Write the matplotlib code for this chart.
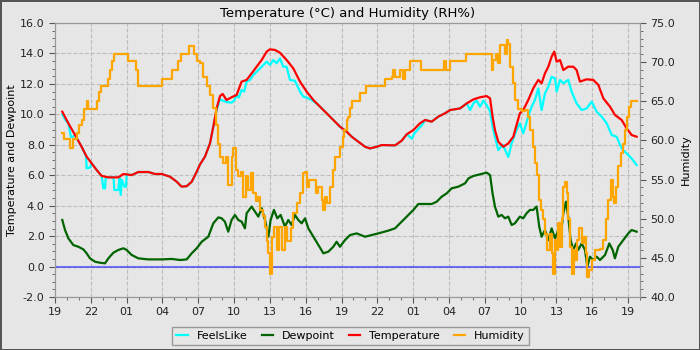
import numpy as np
import pandas as pd
import matplotlib
matplotlib.use('Agg')
import matplotlib.pyplot as plt
from matplotlib.dates import DateFormatter, HourLocator
from matplotlib.ticker import MultipleLocator, FormatStrFormatter

# hours after 19:00 on the first day
temp_h = [0.61, 1.12, 1.68, 2.23, 2.65, 3.07, 3.49, 3.91, 4.47, 5.3,
          5.73, 6.42, 6.98, 7.82, 8.38, 8.94, 9.64, 10.2, 10.6, 11.03,
          11.45, 11.87, 12.14, 12.56, 12.98, 13.26, 13.54, 13.82, 14.04, 14.37,
          14.79, 15.21, 15.63, 16.05, 16.47, 16.89, 17.31, 17.73, 18.0, 18.42,
          18.84, 19.4, 19.96, 20.52, 21.08, 21.64, 22.2, 22.75, 23.31, 23.87,
          24.43, 24.85, 25.41, 25.97, 26.38, 26.94, 27.36, 28.48, 29.04, 29.46,
          30.02, 30.57, 31.0, 31.55, 32.11, 32.67, 33.09, 33.93, 34.49, 35.04,
          35.6, 36.16, 36.44, 36.65, 36.85, 37.13, 37.55, 37.97, 38.39, 38.66,
          38.94, 39.22, 39.64, 40.06, 40.48, 40.76, 41.04, 41.32, 41.6, 41.82,
          42.02, 42.3, 42.58, 42.99, 43.41, 43.69, 43.97, 44.53, 45.09, 45.51,
          45.93, 46.49, 46.9, 47.46, 47.88, 48.3, 48.72]
temp_v = [10.17, 9.41, 8.64, 7.87, 7.22, 6.78, 6.34, 5.95, 5.86, 5.86,
          6.08, 6.01, 6.21, 6.21, 6.08, 6.08, 5.9, 5.57, 5.25, 5.28,
          5.57, 6.23, 6.7, 7.22, 8.09, 9.19, 10.39, 11.2, 11.34, 10.94,
          11.12, 11.27, 12.15, 12.26, 12.69, 13.13, 13.57, 14.12, 14.27, 14.23,
          14.05, 13.57, 13.02, 12.15, 11.49, 10.94, 10.5, 10.07, 9.63, 9.19,
          8.86, 8.53, 8.2, 7.87, 7.76, 7.87, 7.98, 7.96, 8.27, 8.69,
          8.97, 9.41, 9.63, 9.52, 9.85, 10.07, 10.28, 10.39, 10.72, 10.98,
          11.12, 11.2, 11.05, 9.85, 8.97, 8.2, 7.87, 8.09, 8.53, 9.3,
          10.07, 10.28, 10.94, 11.71, 12.26, 12.04, 12.69, 13.13, 13.79, 14.12,
          13.46, 13.57, 12.91, 13.13, 13.13, 12.91, 12.15, 12.3, 12.26, 11.93,
          11.05, 10.5, 9.96, 9.63, 9.08, 8.64, 8.53]

feels_h = [0.61, 0.9, 1.12, 1.34, 1.54, 1.68, 2.23, 2.6, 2.65, 2.93,
           3.07, 3.49, 3.91, 4.05, 4.19, 4.25, 4.9, 4.97, 5.31, 5.4,
           5.5, 5.6, 5.81, 5.95, 6.0, 6.42, 6.98, 7.82, 8.38, 8.94,
           9.64, 10.2, 10.6, 11.03, 11.45, 11.87, 12.14, 12.56, 12.98, 13.26,
           13.54, 13.82, 14.04, 14.37, 14.79, 15.0, 15.21, 15.4, 15.63, 15.85,
           16.05, 16.33, 16.61, 17.03, 17.45, 17.73, 18.01, 18.29, 18.56, 18.84,
           19.12, 19.4, 19.68, 20.1, 20.52, 20.8, 21.08, 21.5, 21.92, 22.34,
           22.75, 23.31, 23.87, 24.43, 24.85, 25.41, 25.97, 26.38, 26.94, 27.36,
           28.48, 29.04, 29.46, 29.6, 29.9, 30.1, 30.5, 30.7, 31.0, 31.55,
           32.11, 32.67, 33.09, 33.93, 34.49, 34.77, 35.04, 35.32, 35.6, 35.88,
           36.16, 36.44, 36.65, 36.85, 37.13, 37.5, 37.97, 38.25, 38.66, 38.94,
           39.22, 39.64, 39.92, 40.2, 40.48, 40.76, 41.04, 41.32, 41.6, 41.88,
           42.02, 42.3, 42.58, 42.99, 43.27, 43.69, 44.11, 44.53, 44.95, 45.37,
           45.79, 46.21, 46.63, 47.04, 47.46, 47.88, 48.3, 48.72]
feels_v = [10.0, 9.6, 9.41, 8.5, 8.55, 8.64, 7.87, 7.25, 6.45, 6.5,
           6.78, 6.34, 5.95, 5.14, 5.14, 5.86, 5.86, 5.03, 5.03, 5.86,
           4.7, 5.7, 5.25, 5.25, 6.05, 6.01, 6.21, 6.21, 6.08, 6.08,
           5.9, 5.57, 5.25, 5.28, 5.57, 6.23, 6.7, 7.22, 8.09, 9.19,
           10.3, 11.0, 10.9, 10.8, 10.77, 10.9, 11.27, 11.1, 11.6, 11.5,
           12.15, 12.26, 12.58, 12.91, 13.24, 13.46, 13.24, 13.57, 13.35, 13.68,
           13.13, 13.13, 12.26, 12.2, 11.49, 11.16, 11.1, 10.94, 10.7, 10.4,
           10.07, 9.63, 9.19, 8.86, 8.53, 8.2, 7.87, 7.76, 7.87, 7.98,
           7.96, 8.27, 8.69, 8.6, 8.4, 8.75, 9.1, 9.25, 9.63, 9.52,
           9.85, 10.07, 10.28, 10.39, 10.72, 10.28, 10.72, 10.9, 10.5, 10.9,
           10.6, 10.2, 9.2, 8.53, 7.65, 8.0, 7.2, 8.1, 8.97, 9.4,
           8.75, 9.85, 10.5, 10.94, 11.7, 10.28, 11.38, 11.82, 12.47, 12.36,
           11.49, 12.26, 12.04, 12.26, 11.49, 10.72, 10.28, 10.39, 10.83, 10.17,
           9.85, 9.41, 8.64, 8.53, 7.76, 7.44, 7.1, 6.67]

dew_h = [0.61, 0.84, 1.12, 1.54, 1.96, 2.37, 2.65, 2.93, 3.35, 3.77,
         4.19, 4.47, 4.89, 5.31, 5.73, 6.0, 6.42, 6.98, 7.82, 8.94,
         9.78, 10.47, 11.03, 11.45, 11.87, 12.29, 12.84, 13.26, 13.68, 13.96,
         14.23, 14.51, 14.79, 15.07, 15.35, 15.63, 15.91, 16.05, 16.47, 16.75,
         17.03, 17.31, 17.59, 17.87, 18.06, 18.34, 18.62, 18.9, 19.26, 19.54,
         19.82, 20.1, 20.38, 20.66, 20.94, 21.22, 21.64, 22.06, 22.48, 22.9,
         23.31, 23.59, 23.87, 24.29, 24.71, 25.27, 25.97, 26.52, 27.08, 27.92,
         28.48, 29.04, 29.46, 30.02, 30.43, 30.99, 31.55, 31.97, 32.39, 32.81,
         33.23, 33.79, 34.35, 34.63, 35.04, 35.6, 36.16, 36.44, 36.65, 36.85,
         37.13, 37.41, 37.69, 37.97, 38.25, 38.52, 38.94, 39.22, 39.5, 39.78,
         40.06, 40.34, 40.56, 40.76, 41.04, 41.32, 41.6, 41.88, 42.16, 42.35,
         42.58, 42.8, 42.99, 43.19, 43.41, 43.64, 43.83, 44.11, 44.39, 44.59,
         44.81, 45.09, 45.37, 45.65, 46.07, 46.43, 46.71, 46.9, 47.18, 47.6,
         48.02, 48.3, 48.72]
dew_v = [3.06, 2.4, 1.85, 1.41, 1.3, 1.13, 0.87, 0.54, 0.32, 0.25,
         0.21, 0.54, 0.91, 1.09, 1.2, 1.09, 0.76, 0.54, 0.47, 0.47,
         0.5, 0.43, 0.47, 0.87, 1.2, 1.63, 1.96, 2.84, 3.23, 3.17,
         2.95, 2.29, 3.06, 3.39, 3.06, 2.95, 2.51, 3.5, 3.94, 3.61,
         3.28, 3.83, 3.06, 1.96, 3.06, 3.72, 3.17, 3.39, 2.62, 3.06,
         2.73, 3.39, 3.06, 2.84, 3.17, 2.51, 1.96, 1.41, 0.87, 0.98,
         1.3, 1.63, 1.3, 1.74, 2.07, 2.18, 1.96, 2.07, 2.18, 2.36,
         2.51, 2.95, 3.28, 3.72, 4.11, 4.11, 4.11, 4.26, 4.59, 4.81,
         5.14, 5.25, 5.47, 5.79, 5.95, 6.06, 6.17, 6.01, 4.81, 3.94,
         3.28, 3.39, 3.17, 3.28, 2.73, 2.84, 3.28, 3.17, 3.5, 3.72,
         3.72, 3.94, 2.62, 1.96, 2.4, 1.74, 2.51, 1.85, 2.4, 1.96,
         3.5, 4.26, 3.28, 1.74, 1.09, 1.52, 1.09, 1.52, 1.09, 0.0,
         0.65, 0.43, 0.65, 0.43, 0.76, 1.52, 1.09, 0.54, 1.3, 1.74,
         2.18, 2.4, 2.29]

hum_h = [0.61, 0.78, 1.12, 1.26, 1.54, 1.82, 2.01, 2.23, 2.46, 2.65,
         2.79, 3.35, 3.49, 3.69, 3.85, 4.33, 4.47, 4.61, 4.8, 4.94,
         6.0, 6.09, 6.65, 6.79, 6.98, 8.94, 8.99, 9.27, 9.78, 9.83,
         10.28, 10.34, 10.56, 11.17, 11.23, 11.59, 11.68, 11.87,
         12.14, 12.42, 12.7, 12.98, 13.26, 13.48, 13.68, 13.82, 14.1, 14.32,
         14.51, 14.79, 14.93, 15.16, 15.35, 15.55, 15.77, 15.99, 16.19, 16.39,
         16.61, 16.83, 17.03, 17.17, 17.39, 17.59, 17.73, 17.87, 18.01, 18.15,
         18.34, 18.56, 18.79, 18.98, 19.26, 19.46, 19.74, 19.91, 20.24, 20.52,
         20.8, 20.94, 21.08, 21.3, 21.64, 21.86, 22.06, 22.34, 22.48, 22.62,
         22.81, 23.03, 23.26, 23.45, 23.73, 23.87, 24.1, 24.24, 24.43, 24.57,
         24.71, 24.9, 25.13, 25.55, 26.02, 27.5, 27.64, 28.2, 28.34, 28.48,
         28.76, 28.9, 29.18, 29.32, 29.74, 30.57, 30.66, 32.53, 32.61, 32.73,
         33.09, 34.35, 34.4, 36.44,
         36.57, 36.71, 36.93, 37.13, 37.27, 37.55, 37.69, 37.83, 37.97, 38.11,
         38.33, 38.52, 38.8, 39.08, 39.36, 39.64, 39.78, 40.01, 40.2, 40.4,
         40.56, 40.68, 40.9, 41.04, 41.23, 41.46, 41.6, 41.74, 41.88, 42.02,
         42.16, 42.3, 42.44, 42.58, 42.71, 42.85, 42.99, 43.13, 43.27, 43.47,
         43.64, 43.75, 43.92, 44.11, 44.34, 44.47, 44.59, 44.75, 44.95, 45.23,
         45.65, 45.93, 46.15, 46.35, 46.54, 46.71, 46.82, 46.99, 47.18, 47.38,
         47.55, 47.74, 47.94, 48.11, 48.22, 48.72]
hum_v = [60.91, 60.15, 60.15, 59.0, 60.15, 60.9, 62.0, 62.6, 64.0, 65.0,
         64.0, 64.0, 65.0, 66.2, 67.0, 67.0, 67.9, 69.0, 70.1, 71.0,
         71.0, 70.1, 70.1, 69.0, 67.0, 67.0, 67.9, 67.9, 67.9, 69.0,
         69.0, 70.1, 71.0, 71.0, 72.1, 72.1, 71.0, 70.1,
         69.9, 68.1, 66.9, 65.8, 64.1, 62.0, 59.6, 57.9, 57.1, 57.9,
         54.3, 57.9, 59.0, 56.2, 55.4, 56.0, 52.8, 55.4, 53.7, 55.8,
         53.3, 52.2, 52.8, 51.1, 50.3, 49.0, 47.1, 45.6, 43.0, 47.7,
         49.0, 46.0, 49.0, 46.0, 49.0, 47.1, 48.8, 50.7, 52.0, 53.3,
         55.8, 56.0, 54.1, 55.0, 55.0, 53.3, 54.1, 52.4, 51.1, 52.8,
         52.0, 54.1, 56.2, 57.9, 57.9, 59.2, 60.5, 61.3, 62.6, 63.0,
         64.1, 65.0, 65.1, 66.0, 67.0, 67.0, 67.9, 68.1, 69.0, 68.1,
         68.1, 69.0, 67.9, 69.0, 70.1, 70.1, 69.0, 69.0, 70.1, 69.0,
         70.1, 70.1, 71.0, 71.0,
         69.0, 70.3, 71.1, 69.9, 72.2, 72.2, 71.1, 72.8, 72.3, 69.4,
         67.3, 65.2, 64.0, 63.7, 63.9, 63.0, 61.3, 59.2, 57.1, 55.6,
         52.4, 51.1, 49.9, 48.1, 46.0, 48.1, 45.6, 43.0, 47.3, 46.0,
         49.4, 46.4, 49.9, 54.1, 54.7, 53.3, 49.9, 46.4, 43.0, 46.0,
         44.7, 47.3, 48.8, 46.9, 47.7, 45.6, 42.6, 43.5, 44.7, 46.0,
         46.1, 47.3, 49.9, 52.4, 55.0, 52.8, 52.0, 54.1, 56.7, 58.4,
         59.6, 61.3, 63.0, 64.3, 65.1, 65.1]

start = pd.Timestamp('2024-05-01 19:00')


def to_time(hours):
    return (start + pd.to_timedelta(np.array(hours), unit='h')).to_numpy()


bg = '#e6e6e6'
fig = plt.figure(figsize=(7, 3.5), dpi=100, facecolor=bg,
                 edgecolor='#555555', linewidth=2)
ax = fig.add_axes([55 / 700, 53 / 350, 585 / 700, 274 / 350])
ax.set_facecolor(bg)
ax2 = ax.twinx()

l1, = ax.plot(to_time(feels_h), feels_v, color='#00ffff', lw=1.6, label='FeelsLike')
l2, = ax.plot(to_time(dew_h), dew_v, color='#006400', lw=1.6, label='Dewpoint')
l3, = ax.plot(to_time(temp_h), temp_v, color='#ff0000', lw=1.6, label='Temperature')
ax.axhline(0, color='blue', alpha=0.5, lw=1.5)
l4, = ax2.plot(to_time(hum_h), hum_v, color='#ffa500', lw=1.6,
               drawstyle='steps-post', label='Humidity')

# axes format
ax.set_xlim(to_time([0])[0], to_time([49])[0])
ax.set_ylim(-2, 16)
ax2.set_ylim(40, 75)
ax.xaxis.set_major_locator(HourLocator(byhour=range(1, 24, 3)))
ax.xaxis.set_minor_locator(HourLocator())
ax.xaxis.set_major_formatter(DateFormatter('%H'))
ax.yaxis.set_major_locator(MultipleLocator(2))
ax.yaxis.set_minor_locator(MultipleLocator(0.5))
ax.yaxis.set_major_formatter(FormatStrFormatter('%.1f'))
ax2.yaxis.set_major_locator(MultipleLocator(5))
ax2.yaxis.set_minor_locator(MultipleLocator(1))
ax2.yaxis.set_major_formatter(FormatStrFormatter('%.1f'))

for a in (ax, ax2):
    a.tick_params(which='major', length=4, labelsize=8, color='#555555', labelcolor='#222222')
    a.tick_params(which='minor', length=2, color='#555555')
    for s in a.spines.values():
        s.set_color('#999999')

ax.grid(True, which='major', ls='--', color='#bdbdbd', lw=0.8)
ax.set_ylabel('Temperature and Dewpoint', fontsize=8)
ax.yaxis.set_label_coords(-38 / 585, 0.5)
ax2.set_ylabel('Humidity', fontsize=8)
ax2.yaxis.set_label_coords(626 / 585, 0.5)
ax.set_title('Temperature (°C) and Humidity (RH%)', fontsize=9.5, pad=4)

fig.legend(handles=[l1, l2, l3, l4], loc='center', bbox_to_anchor=(0.501, 0.04),
           ncol=4, fontsize=8, fancybox=False, framealpha=1, facecolor=bg,
           edgecolor='#999999', handlelength=1.0, columnspacing=1.3,
           borderaxespad=0)

plt.savefig('out.png', dpi=100, facecolor=bg, edgecolor='#555555')
